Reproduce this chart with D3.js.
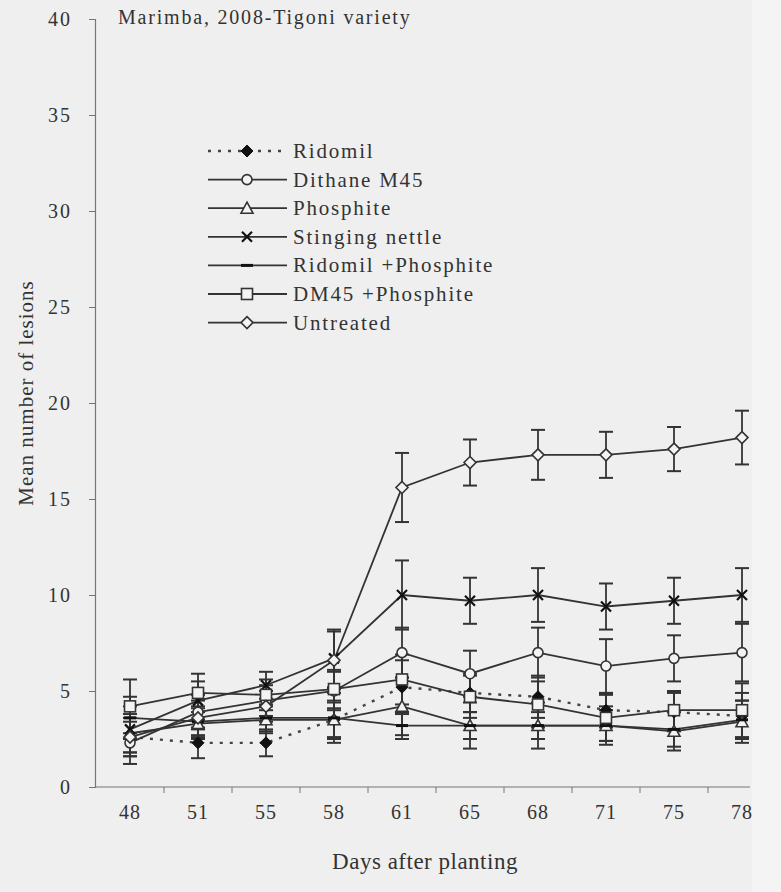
<!DOCTYPE html>
<html>
<head>
<meta charset="utf-8">
<script src="https://cdnjs.cloudflare.com/ajax/libs/d3/7.8.5/d3.min.js"></script>
<style>
  html, body { margin: 0; padding: 0; background: #efefef; }
  svg { display: block; }
  text { font-family: "Liberation Serif", "Times New Roman", serif; fill: #333; }
</style>
</head>
<body>
<svg id="chart" width="781" height="892"></svg>
<script>
// Days after planting (categories)
const days = [48, 51, 55, 58, 61, 65, 68, 71, 75, 78];
const yTicks = [0, 5, 10, 15, 20, 25, 30, 35, 40];

// Mean number of lesions per treatment, with error-bar half-widths
const ridomil        = [2.6, 2.3, 2.3, 3.5, 5.2, 4.9, 4.7, 4.0, 3.9, 3.7];
const ridomilErr     = [1.0, 0.8, 0.7, 1.0, 1.4, 1.0, 1.1, 0.9, 1.0, 1.2];
const dithane        = [2.3, 3.9, 4.5, 5.0, 7.0, 5.9, 7.0, 6.3, 6.7, 7.0];
const dithaneErr     = [1.1, 0.9, 0.8, 1.0, 1.3, 1.2, 1.3, 1.4, 1.2, 1.5];
const phosphite      = [2.8, 3.3, 3.5, 3.5, 4.2, 3.2, 3.2, 3.2, 2.9, 3.4];
const phosphiteErr   = [1.0, 0.8, 0.7, 0.9, 1.5, 1.2, 1.2, 1.0, 1.0, 1.1];
const nettle         = [3.0, 4.5, 5.3, 6.7, 10.0, 9.7, 10.0, 9.4, 9.7, 10.0];
const nettleErr      = [1.2, 1.0, 0.7, 1.5, 1.8, 1.2, 1.4, 1.2, 1.2, 1.4];
const ridPhos        = [3.6, 3.4, 3.6, 3.6, 3.2, 3.2, 3.2, 3.2, 3.0, 3.5];
const ridPhosErr     = [1.1, 0.8, 0.7, 1.3, 0.7, 0.7, 0.7, 0.8, 0.9, 1.0];
const dm45Phos       = [4.2, 4.9, 4.8, 5.1, 5.6, 4.7, 4.3, 3.6, 4.0, 4.0];
const dm45PhosErr    = [1.4, 1.0, 0.8, 1.0, 1.3, 1.1, 1.2, 1.2, 1.0, 1.4];
const untreated      = [2.6, 3.6, 4.2, 6.6, 15.6, 16.9, 17.3, 17.3, 17.6, 18.2];
const untreatedErr   = [1.0, 0.9, 0.8, 1.5, 1.8, 1.2, 1.3, 1.2, 1.15, 1.4];

const seriesNames = ["Ridomil", "Dithane M45", "Phosphite", "Stinging nettle",
                     "Ridomil +Phosphite", "DM45 +Phosphite", "Untreated"];

const series = [
  { name: seriesNames[0], values: ridomil,   err: ridomilErr,   marker: "filledDiamond", dash: "3,7" },
  { name: seriesNames[1], values: dithane,   err: dithaneErr,   marker: "circle" },
  { name: seriesNames[2], values: phosphite, err: phosphiteErr, marker: "triangle" },
  { name: seriesNames[3], values: nettle,    err: nettleErr,    marker: "cross" },
  { name: seriesNames[4], values: ridPhos,   err: ridPhosErr,   marker: "dash" },
  { name: seriesNames[5], values: dm45Phos,  err: dm45PhosErr,  marker: "square" },
  { name: seriesNames[6], values: untreated, err: untreatedErr, marker: "diamond" }
];

const ink = "#333";
const paper = "#f3f3f3";

const svg = d3.select("#chart");

// lighter strip at the right edge of the sheet
svg.append("rect").attr("x", 752).attr("y", 0).attr("width", 29).attr("height", 892)
  .attr("fill", "#f4f4f4");

const x = d3.scaleBand().domain(days).range([96, 776]).padding(0);
const y = d3.scaleLinear().domain([0, 40]).range([787, 19]);
const cx = d => x(d) + x.bandwidth() / 2;

// Y axis
const yAxis = svg.append("g").attr("transform", "translate(95,0)")
  .call(d3.axisLeft(y).tickValues(yTicks).tickSize(6).tickPadding(17));
yAxis.select(".domain").attr("stroke", "#777").attr("stroke-width", 1.2);
yAxis.selectAll(".tick line").attr("stroke", "#777");
yAxis.selectAll(".tick text").style("font-size", "20px").style("letter-spacing", "2px")
  .attr("fill", ink).attr("font-family", "Liberation Serif");

// X axis: labels centred in each day's band, ticks on band boundaries
const xAxis = svg.append("g").attr("transform", "translate(0,787)")
  .call(d3.axisBottom(x).tickSize(0).tickPadding(18));
xAxis.select(".domain").remove();
xAxis.selectAll(".tick text").style("font-size", "20px").style("letter-spacing", "1px")
  .attr("fill", ink).attr("font-family", "Liberation Serif");
svg.append("line").attr("x1", 95).attr("x2", 750).attr("y1", 787).attr("y2", 787)
  .attr("stroke", "#777").attr("stroke-width", 1.2);
svg.append("g").selectAll("line").data(days.slice(0, -1)).join("line")
  .attr("x1", d => x(d) + x.step()).attr("x2", d => x(d) + x.step())
  .attr("y1", 787).attr("y2", 793).attr("stroke", "#777");

// Axis titles and chart title
svg.append("text").attr("x", 425).attr("y", 869).attr("text-anchor", "middle")
  .style("font-size", "23px").style("letter-spacing", "0.5px").text("Days after planting");
svg.append("text").attr("transform", "translate(33,393) rotate(-90)")
  .attr("text-anchor", "middle").style("font-size", "21px").style("letter-spacing", "1px")
  .text("Mean number of lesions");
svg.append("text").attr("x", 118).attr("y", 24).style("font-size", "20px")
  .style("letter-spacing", "1.8px").text("Marimba, 2008-Tigoni variety");

// Marker drawing
function drawMarker(g, type, px, py) {
  const s = 6;
  switch (type) {
    case "filledDiamond":
      g.append("path").attr("d", `M${px},${py - s}L${px + s},${py}L${px},${py + s}L${px - s},${py}Z`)
        .attr("fill", "#111").attr("stroke", "#111").attr("stroke-width", 1);
      break;
    case "diamond":
      g.append("path").attr("d", `M${px},${py - s}L${px + s},${py}L${px},${py + s}L${px - s},${py}Z`)
        .attr("fill", paper).attr("stroke", ink).attr("stroke-width", 1.6);
      break;
    case "circle":
      g.append("circle").attr("cx", px).attr("cy", py).attr("r", 5)
        .attr("fill", paper).attr("stroke", ink).attr("stroke-width", 1.6);
      break;
    case "square":
      g.append("rect").attr("x", px - 5.5).attr("y", py - 5.5).attr("width", 11).attr("height", 11)
        .attr("fill", paper).attr("stroke", ink).attr("stroke-width", 1.6);
      break;
    case "triangle":
      g.append("path").attr("d", `M${px},${py - 6}L${px + 6},${py + 5}L${px - 6},${py + 5}Z`)
        .attr("fill", paper).attr("stroke", ink).attr("stroke-width", 1.6);
      break;
    case "cross":
      g.append("path").attr("d", `M${px - 5},${py - 5}L${px + 5},${py + 5}M${px + 5},${py - 5}L${px - 5},${py + 5}`)
        .attr("stroke", "#111").attr("stroke-width", 2.2).attr("fill", "none");
      break;
    case "dash":
      g.append("path").attr("d", `M${px - 6},${py}L${px + 6},${py}`)
        .attr("stroke", "#111").attr("stroke-width", 3).attr("fill", "none");
      break;
  }
}

const plot = svg.append("g");

// Error bars
const eb = plot.append("g");
series.forEach(s => {
  s.values.forEach((v, i) => {
    const px = cx(days[i]);
    const y0 = y(v - s.err[i]), y1 = y(v + s.err[i]);
    eb.append("line").attr("x1", px).attr("x2", px).attr("y1", y0).attr("y2", y1)
      .attr("stroke", ink).attr("stroke-width", 1.8);
    [y0, y1].forEach(yy => eb.append("line")
      .attr("x1", px - 7).attr("x2", px + 7).attr("y1", yy).attr("y2", yy)
      .attr("stroke", ink).attr("stroke-width", 2));
  });
});

// Lines
const line = d3.line().x((v, i) => cx(days[i])).y(v => y(v));
series.forEach(s => {
  plot.append("path").attr("d", line(s.values)).attr("fill", "none")
    .attr("stroke", s.dash ? "#444" : ink)
    .attr("stroke-width", s.dash ? 2.4 : 1.8)
    .attr("stroke-dasharray", s.dash || null);
});

// Markers
const mk = plot.append("g");
series.forEach(s => {
  s.values.forEach((v, i) => drawMarker(mk, s.marker, cx(days[i]), y(v)));
});

// Legend
const legend = svg.append("g");
series.forEach((s, i) => {
  const ry = 151 + i * 28.6;
  legend.append("line").attr("x1", 208).attr("x2", 287).attr("y1", ry).attr("y2", ry)
    .attr("stroke", s.dash ? "#444" : ink).attr("stroke-width", s.dash ? 2.4 : 1.8)
    .attr("stroke-dasharray", s.dash || null);
  drawMarker(legend, s.marker, 247, ry);
  legend.append("text").attr("x", 293).attr("y", ry + 7).style("font-size", "21px")
    .style("letter-spacing", "1.8px").text(s.name);
});
</script>
</body>
</html>
